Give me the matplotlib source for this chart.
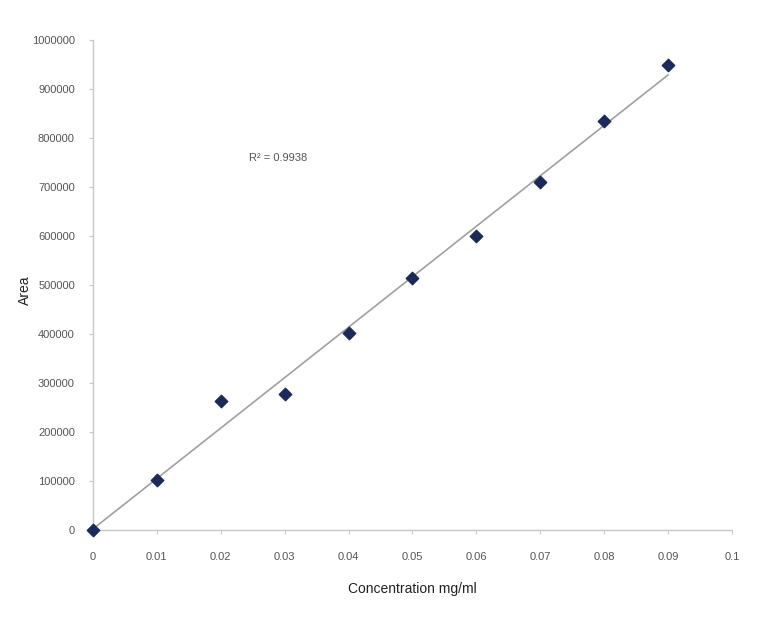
import numpy as np
import matplotlib
matplotlib.use("Agg")
import matplotlib.pyplot as plt

plt.rcParams['font.family'] = ['Liberation Sans Narrow', 'Liberation Sans', 'DejaVu Sans']

# --- data ---
conc = [0.0, 0.01, 0.02, 0.03, 0.04, 0.05, 0.06, 0.07, 0.08, 0.09]
area = [0, 102000, 263000, 277000, 402000, 514000, 600000, 711000, 836000, 949000]
r2_label = "R² = 0.9938"
x_ticks = [0, 0.01, 0.02, 0.03, 0.04, 0.05, 0.06, 0.07, 0.08, 0.09, 0.1]
x_tick_labels = ["0", "0.01", "0.02", "0.03", "0.04", "0.05", "0.06", "0.07", "0.08", "0.09", "0.1"]
y_ticks = [0, 100000, 200000, 300000, 400000, 500000, 600000, 700000, 800000, 900000, 1000000]

x = np.array(conc)
y = np.array(area)

# linear trendline (least squares)
slope, intercept = np.polyfit(x, y, 1)
x_fit = np.array([x.min(), x.max()])
y_fit = slope * x_fit + intercept

fig = plt.figure(figsize=(7.68, 6.19), dpi=100)
ax = fig.add_axes([0.121, 0.144, 0.832, 0.791])

ax.plot(x_fit, y_fit, color="#a0a0a0", lw=1.2, zorder=1)
ax.scatter(x, y, marker="D", s=40, color="#1c2a5a", zorder=3, clip_on=False)

ax.set_xlim(0, 0.1)
ax.set_ylim(0, 1000000)
ax.set_xticks(x_ticks)
ax.set_xticklabels(x_tick_labels)
ax.set_yticks(y_ticks)
ax.set_yticklabels([str(v) for v in y_ticks])

for side in ("top", "right"):
    ax.spines[side].set_visible(False)
for side in ("left", "bottom"):
    ax.spines[side].set_color("#c8c8c8")
    ax.spines[side].set_linewidth(1.0)

ax.tick_params(colors="#c8c8c8", labelcolor="#555555", labelsize=8, length=3)
ax.tick_params(axis="x", pad=13)
ax.tick_params(axis="y", pad=10)

ax.set_xlabel("Concentration mg/ml", fontsize=10, color="#222222", labelpad=14)
ax.set_ylabel("Area", fontsize=10, color="#222222")
ax.yaxis.set_label_coords(-0.095, 0.49)

ax.text(0.029, 760000, r2_label, fontsize=8, color="#555555", ha="center", va="center")

fig.savefig("out.png", dpi=100)
